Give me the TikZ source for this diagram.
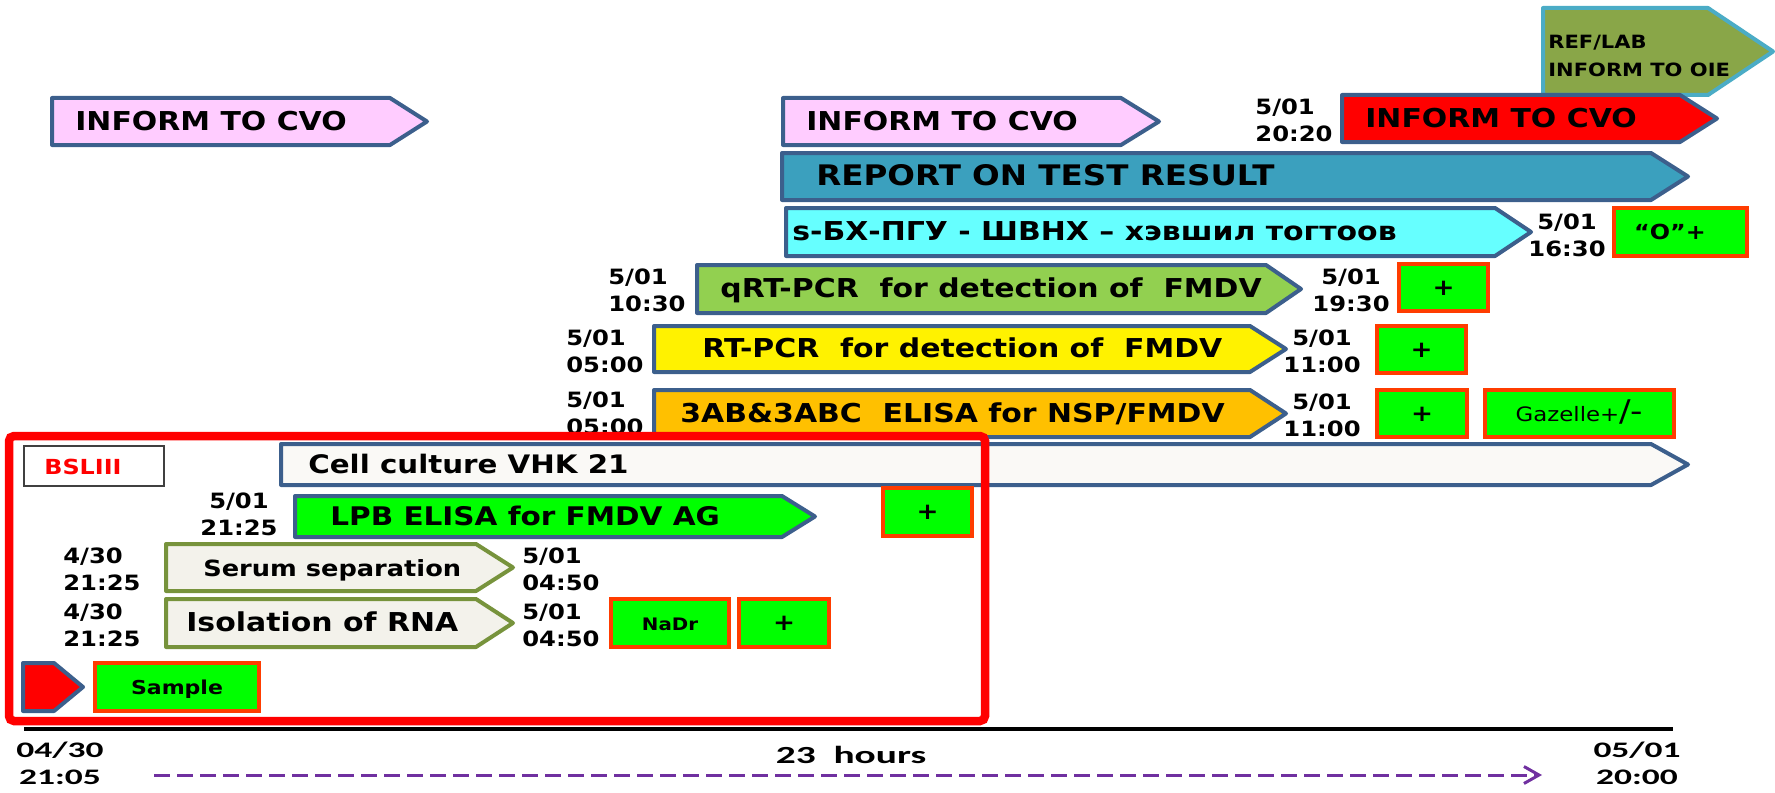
\documentclass[tikz,border=0pt]{standalone}
\usepackage{fontspec}
\setmainfont{DejaVu Sans}[FakeStretch=1.15]
\newfontfamily\calfont{Carlito}[FakeStretch=1.6]
\usetikzlibrary{arrows.meta}

\definecolor{edgeblue}{RGB}{60,95,140}
\definecolor{pinkfill}{RGB}{255,204,255}
\definecolor{tealfill}{RGB}{59,160,190}
\definecolor{cyanfill}{RGB}{102,255,255}
\definecolor{qgreen}{RGB}{146,208,80}
\definecolor{goldfill}{RGB}{255,192,0}
\definecolor{paperfill}{RGB}{250,249,246}
\definecolor{oliveedge}{RGB}{119,147,60}
\definecolor{serumfill}{RGB}{243,242,235}
\definecolor{resgreen}{RGB}{0,255,0}
\definecolor{resedge}{RGB}{255,60,0}
\definecolor{oiefill}{RGB}{137,166,72}
\definecolor{oieedge}{RGB}{75,172,198}
\definecolor{hourline}{RGB}{112,48,160}

% left end, body end, tip, top, bottom
\newcommand{\tagarrow}[6]{\draw[#1] (#2,#5) -- (#3,#5) -- (#4,{(#5+#6)/2}) -- (#3,#6) -- (#2,#6) -- cycle;}

\tikzset{
  tag/.style={draw=edgeblue, line width=0.8mm, line join=round},
  res/.style={draw=resedge, fill=resgreen, line width=0.8mm},
  txt/.style={font=\fontsize{14.8}{17}\selectfont\bfseries, anchor=mid west, inner sep=0pt, yshift=-0.8mm},
  restxt/.style={font=\fontsize{13}{15}\selectfont\bfseries, inner sep=0pt, anchor=mid, yshift=-0.6mm},
  when/.style={font=\fontsize{12}{15.35}\selectfont\bfseries, inner sep=0pt, align=center},
  whenl/.style={when, align=left, anchor=west},
  bottomtxt/.style={font=\calfont\fontsize{12.6}{15.35}\selectfont\bfseries, inner sep=0pt, align=center},
}

\begin{document}
\begin{tikzpicture}[x=0.2mm, y=-0.2mm]

        \useasboundingbox (0,0) rectangle (1775,792);

        \tagarrow{tag, fill=pinkfill}{52}{390}{427}{98}{145}
        \tagarrow{tag, fill=pinkfill}{783}{1121}{1159}{98}{145}
        \tagarrow{tag, draw=oieedge, fill=oiefill}{1543}{1708}{1773}{8}{95}
        \tagarrow{tag, fill=red}{1342}{1680}{1717}{95}{142}
        \tagarrow{tag, fill=tealfill}{782}{1651}{1688}{153}{200}
        \tagarrow{tag, fill=cyanfill}{786}{1495}{1531}{208}{256}
        \tagarrow{tag, fill=qgreen}{697}{1266}{1301}{265}{313}
        \tagarrow{tag, fill=yellow}{654}{1250}{1286}{326}{372}
        \tagarrow{tag, fill=goldfill}{654}{1250}{1286}{390}{437}
        \tagarrow{tag, fill=paperfill}{281}{1651}{1688}{444}{485}
        \tagarrow{tag, fill=resgreen}{295}{782}{815}{496}{537}
        \tagarrow{tag, draw=oliveedge, fill=serumfill}{166}{476}{513}{544}{591}
        \tagarrow{tag, draw=oliveedge, fill=serumfill}{166}{476}{513}{599}{647}
        \tagarrow{tag, fill=red}{23}{54}{83}{663}{711}

        \node[txt] (cvo1) at (75,121.5) {INFORM TO CVO};
        \node[txt] (cvo2) at (806,121.5) {INFORM TO CVO};
        \node[txt] (cvo3) at (1365,118.5) {INFORM TO CVO};
        \node[txt, font=\fontsize{10.4}{15.9}\selectfont\bfseries, align=left, anchor=west, yshift=0mm] (oie) at (1548,52) {REF/LAB\\INFORM TO OIE};
        \node[txt, font=\fontsize{16.1}{18}\selectfont\bfseries] (report) at (816,176.5) {REPORT ON TEST RESULT};
        \node[txt] (typing) at (792,232) {s-БХ-ПГУ - ШВНХ – хэвшил тогтоов};
        \node[txt] (qpcr) at (720,289) {qRT-PCR\ \ for detection of\ \ FMDV};
        \node[txt] (pcr) at (702,349) {RT-PCR\ \ for detection of\ \ FMDV};
        \node[txt] (nsp) at (680,413.5) {3AB\&3ABC\ \ ELISA for NSP/FMDV};
        \node[txt, font=\fontsize{14.5}{17}\selectfont\bfseries] (cell) at (308,464.5) {Cell culture VHK 21};
        \node[txt, font=\fontsize{14.6}{17}\selectfont\bfseries] (lpb) at (330,516.5) {LPB ELISA for FMDV AG};
        \node[txt, font=\fontsize{12.7}{15}\selectfont\bfseries] (serum) at (203,567.5) {Serum separation};
        \node[txt] (rna) at (186,623) {Isolation of RNA};

        \draw[res] (1614,208) rectangle (1747,256);
        \draw[res] (1399,264) rectangle (1488,311);
        \draw[res] (1377,326) rectangle (1466,373);
        \draw[res] (1377,390) rectangle (1467,437);
        \draw[res] (1485,390) rectangle (1674,437);
        \draw[res] (883,488) rectangle (972,536);
        \draw[res] (611,599) rectangle (729,647);
        \draw[res] (739,599) rectangle (829,647);
        \draw[res] (95,663) rectangle (259,711);

        \node[restxt, font=\fontsize{11.8}{14}\selectfont\bfseries] (otype) at (1670,232) {“O”+};
        \node[restxt] (qplus) at (1443.5,287.5) {+};
        \node[restxt] (pplus) at (1421.5,349.5) {+};
        \node[restxt] (nplus) at (1422,413.5) {+};
        \node[restxt, font=\fontsize{11.3}{14}\selectfont] (gazelle) at (1579.5,413.5) {Gazelle+{\fontsize{17}{17}\selectfont/-}};
        \node[restxt] (lplus) at (927.5,512) {+};
        \node[restxt, font=\fontsize{9.8}{12}\selectfont\bfseries] (nadr) at (670,623) {NaDr};
        \node[restxt] (rplus) at (784,623) {+};
        \node[restxt, font=\fontsize{10.9}{13}\selectfont\bfseries] (sample) at (177,687) {Sample};

        \draw[black!75, line width=0.3mm] (24,446) rectangle (164,486);
        \node[txt, font=\fontsize{11.8}{14}\selectfont\bfseries, text=red] (bsl) at (44,466) {BSLIII};

        \node[whenl] (t1) at (1255,120) {5/01\\20:20};
        \node[when] (t2) at (1567,235) {5/01\\16:30};
        \node[whenl] (t3) at (608,290.5) {5/01\\10:30};
        \node[when] (t4) at (1351,290.5) {5/01\\19:30};
        \node[whenl] (t5) at (566,351.5) {5/01\\05:00};
        \node[when] (t6) at (1322,351.5) {5/01\\11:00};
        \node[whenl] (t7) at (566,413) {5/01\\05:00};
        \node[when] (t8) at (1322,415) {5/01\\11:00};
        \node[when] (t9) at (239,514.5) {5/01\\21:25};
        \node[whenl] (t10) at (63,569.5) {4/30\\21:25};
        \node[whenl] (t11) at (522,569.5) {5/01\\04:50};
        \node[whenl] (t12) at (63,625) {4/30\\21:25};
        \node[whenl] (t13) at (522,625) {5/01\\04:50};

        \draw[red, line width=1.7mm, rounded corners=1mm] (9,436) rectangle (985,721);

        \coordinate (line0) at (24,729);
        \coordinate (line1) at (1673,729);
        \draw[black, line width=0.8mm] (line0) -- (line1);

        \node[bottomtxt] (start) at (60,763) {04/30\\21:05};
        \node[bottomtxt] (stop) at (1637,763) {05/01\\20:00};
        \node[bottomtxt, font=\calfont\fontsize{14}{16}\selectfont\bfseries] (span) at (851,755) {23\ \ hours};

        \coordinate (h0) at (154,775);
        \coordinate (h1) at (1542,775);
        \draw[hourline, line width=0.6mm, dash pattern=on 3.2mm off 1.4mm, -{Straight Barb[length=3mm, width=3.4mm]}] (h0) -- (h1);

\end{tikzpicture}
\end{document}
